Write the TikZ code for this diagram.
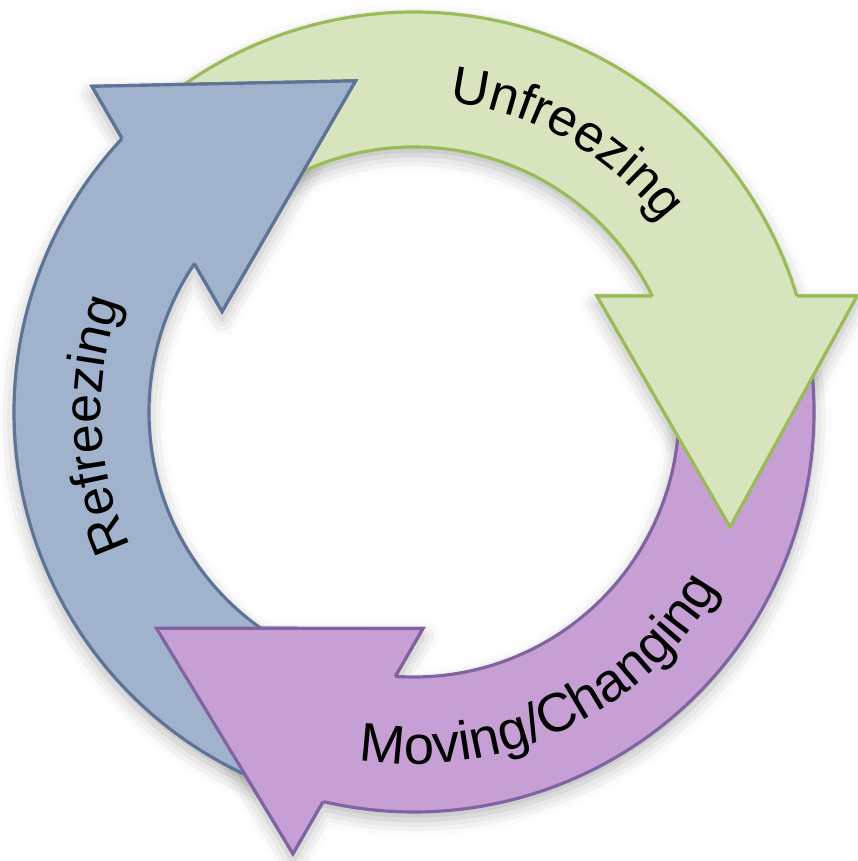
\documentclass[tikz,border=0pt]{standalone}
\usepackage{fontspec}
\setmainfont{Liberation Sans}
\usetikzlibrary{decorations.text,shadows.blur}

\definecolor{ufill}{HTML}{D7E4BD}
\definecolor{uline}{HTML}{9BBB59}
\definecolor{mfill}{HTML}{C6A0D5}
\definecolor{mline}{HTML}{8064A2}
\definecolor{rfill}{HTML}{A0B2CC}
\definecolor{rline}{HTML}{5F7396}

\newcommand{\labelfont}{\fontsize{14.8}{18}\selectfont}
\newcommand{\biglabelfont}{\fontsize{15.5}{18}\selectfont}

\begin{document}
\begin{tikzpicture}[line width=0.9pt, line join=miter,
    arrowshape/.style={insert path={(128:2.65) arc[start angle=128, end angle={asin(1.16/2.65)}, radius=2.65]
        -- (1.83,1.16) -- (3.16,-1.15) -- (4.43,1.16) -- ({asin(1.16/4)}:4)
        arc[start angle={asin(1.16/4)}, end angle=128, radius=4] -- cycle}},
    headshape/.style={insert path={(1.83,1.16) -- (3.16,-1.15) -- (4.43,1.16) -- cycle}},
    headedge/.style={insert path={({asin(1.16/2.65)}:2.65) -- (1.83,1.16) -- (3.16,-1.15) -- (4.43,1.16) -- ({asin(1.16/4)}:4)}},
    ringshadow/.style={blur shadow={shadow xshift=0mm, shadow yshift=-0.8mm, shadow blur radius=1.6mm, shadow opacity=28}},
    ring/.style={draw=#1line, fill=#1fill},
    ringhead/.style={fill=#1fill},
    ringedge/.style={draw=#1line},
    ringtext/.style={decorate, decoration={text along path, text={|\labelfont|#1}, text align=center}},
    bigringtext/.style={decorate, decoration={text along path, text={|\biglabelfont|#1}, text align=center}}]
    \useasboundingbox (-4.14,-4.49) rectangle (4.43,4.12);

    % shadows first
    \path[ringshadow, arrowshape];
    \path[ringshadow, rotate=-120, arrowshape];
    \path[ringshadow, rotate=120, arrowshape];

    % bands with heads
    \path[ring=u, arrowshape];
    \path[ring=m, rotate=-120, arrowshape];
    \path[ring=r, rotate=120, arrowshape];

    % heads again, over the tails
    \path[ringhead=u, headshape];
    \path[ringedge=u, headedge];
    \path[ringhead=m, rotate=-120, headshape];
    \path[ringedge=m, rotate=-120, headedge];
    \path[ringhead=r, rotate=120, headshape];
    \path[ringedge=r, rotate=120, headedge];

    \path[ringtext=Unfreezing] (100.4:3.12) arc[start angle=100.4, end angle=20.4, radius=3.12];
    \path[ringtext=Refreezing] (222.4:3.13) arc[start angle=222.4, end angle=142.4, radius=3.13];
    \path[bigringtext=Moving/Changing] (-114.5:3.52) arc[start angle=-114.5, end angle=-14.5, radius=3.52];
\end{tikzpicture}
\end{document}
